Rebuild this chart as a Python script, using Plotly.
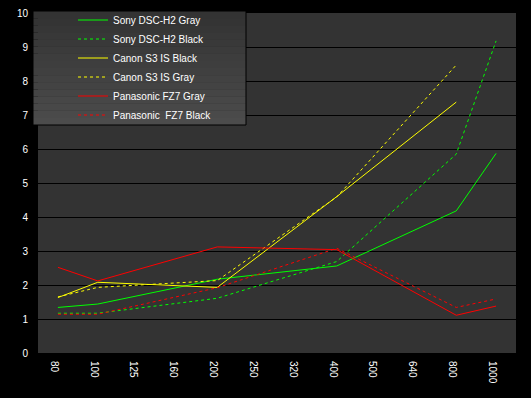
import plotly.graph_objects as go

iso = ["80", "100", "125", "160", "200", "250", "320", "400", "500", "640", "800", "1000"]

sony_gray = [1.34, 1.44, None, None, 2.17, None, None, 2.56, None, None, 4.18, 5.87]
sony_black = [1.17, 1.17, None, None, 1.61, None, None, 2.69, None, None, 5.85, 9.18]
canon_black = [1.63, 2.08, None, None, 1.93, None, None, 4.60, None, None, 7.38, None]
canon_gray = [1.65, 1.93, None, None, 2.13, None, None, 4.59, None, None, 8.47, None]
pana_gray = [2.52, 2.12, None, None, 3.12, None, None, 3.04, None, None, 1.11, 1.38]
pana_black = [1.14, 1.14, None, None, 1.92, None, None, 3.08, None, None, 1.34, 1.59]

y_ticks = list(range(0, 11))

series = [
    ("Sony DSC-H2 Gray", sony_gray, "#00ff00", "solid"),
    ("Sony DSC-H2 Black", sony_black, "#00ff00", "3px,3px"),
    ("Canon S3 IS Black", canon_black, "#ffff00", "solid"),
    ("Canon S3 IS Gray", canon_gray, "#ffff00", "3px,3px"),
    ("Panasonic FZ7 Gray", pana_gray, "#ff0000", "solid"),
    ("Panasonic  FZ7 Black", pana_black, "#ff0000", "3px,3px"),
]

fig = go.Figure()
for name, vals, color, dash in series:
    fig.add_trace(go.Scatter(
        x=iso, y=vals, name=name, mode="lines", connectgaps=True,
        line=dict(color=color, width=1, dash=dash),
    ))

# legend box with vertical gradient
x0, x1 = -5 / 478, 208 / 478
ytop, ybot = (353 - 11) / 340, (353 - 125) / 340
n = 16
for i in range(n):
    t = i / (n - 1)
    c = int(0x33 + (0x4c - 0x33) * t)
    fig.add_shape(type="rect", xref="paper", yref="paper", layer="above",
                  x0=x0, x1=x1,
                  y0=ytop - (ytop - ybot) * (i + 1) / n,
                  y1=ytop - (ytop - ybot) * i / n,
                  fillcolor=f"rgb({c},{c},{c})", line=dict(width=0))
fig.add_shape(type="rect", xref="paper", yref="paper", layer="above",
              x0=x0, x1=x1, y0=ybot, y1=ytop,
              fillcolor="rgba(0,0,0,0)", line=dict(color="black", width=1))

fig.update_layout(
    width=531, height=398,
    margin=dict(l=38, r=15, t=13, b=45, autoexpand=False),
    paper_bgcolor="black",
    plot_bgcolor="#333333",
    font=dict(family="Liberation Sans, Arial, sans-serif", size=10, color="white"),
    showlegend=True,
    legend=dict(
        xref="container", yref="container",
        x=73 / 531, xanchor="left",
        y=1 - 5.5 / 398, yanchor="top",
        bgcolor="rgba(0,0,0,0)", borderwidth=0,
        font=dict(size=10, color="white"),
    ),
    xaxis=dict(
        type="category", categoryorder="array", categoryarray=iso,
        range=[-0.5, 11.5], tickangle=90, showgrid=False, zeroline=False,
        showline=False, ticks="outside", ticklen=5, tickcolor="black",
        tickfont=dict(size=10, color="white"), automargin=False,
        ticklabelshift=-4,
    ),
    yaxis=dict(
        range=[0, 10], tickvals=y_ticks, showgrid=True, gridcolor="black",
        gridwidth=1, zeroline=False, showline=False, ticks="outside",
        ticklen=7, tickcolor="black", tickfont=dict(size=10, color="white"),
        automargin=False,
    ),
)

fig.write_html("out.html", config={"displayModeBar": False},
               post_script="document.body.style.margin='0px';document.body.style.background='black';")
